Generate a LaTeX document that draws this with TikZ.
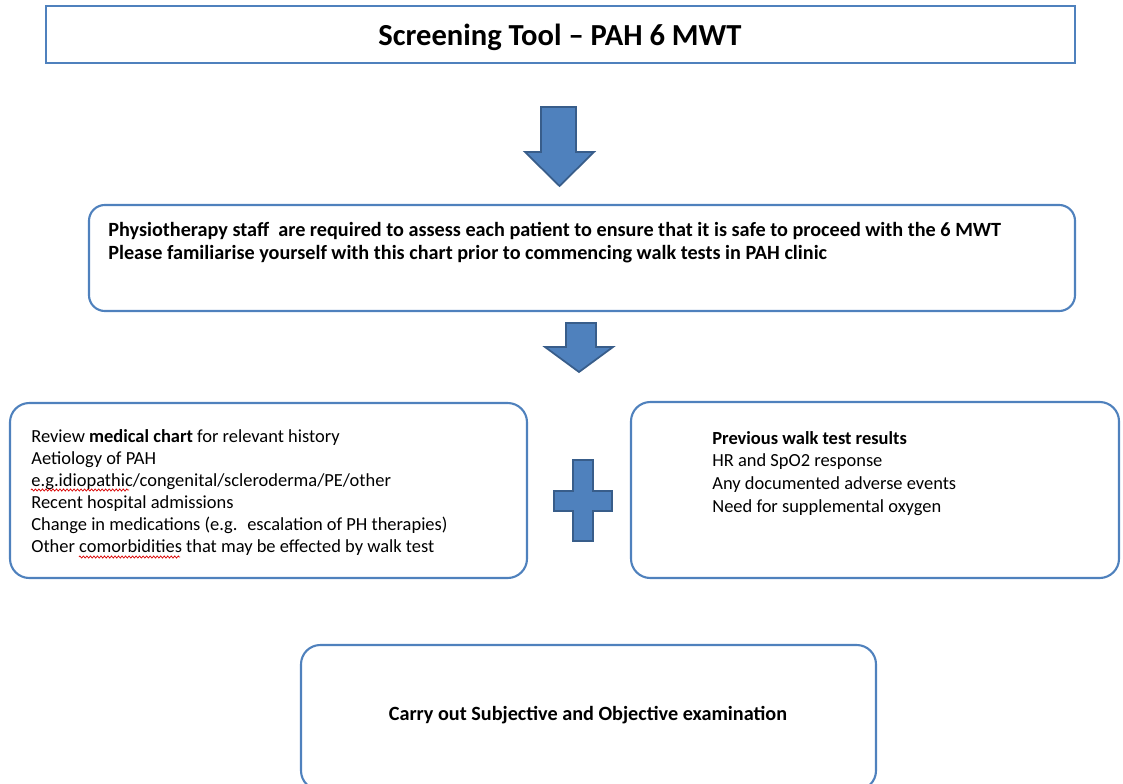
\documentclass[tikz,border=0pt]{standalone}
\usepackage{fontspec}
\setmainfont{Carlito}
\usetikzlibrary{fit,decorations.pathmorphing}
\definecolor{boxblue}{HTML}{4F81BD}
\definecolor{arrowedge}{HTML}{385D8A}
\tikzset{
  titlebox/.style={draw=boxblue, line width=1.4pt, inner sep=0pt},
  roundbox/.style={draw=boxblue, line width=1.2pt, rounded corners=11pt, inner sep=0pt},
  blockarrow/.style={fill=boxblue, draw=arrowedge, line width=1pt, line join=miter},
  txt/.style={inner sep=0pt, align=left, font=\fontsize{10.5}{12.6}\selectfont},
  spellmark/.style={red!85!black, line width=0.4pt, decorate,
    decoration={zigzag, amplitude=0.6pt, segment length=2pt}}
}
\begin{document}
\begin{tikzpicture}[x=0.02cm,y=-0.02cm]
    \useasboundingbox (0,0) rectangle (1123,784);
    % title
    \node[titlebox, fit={(46,6) (1075,63)}] (title) {};
    \node[font=\fontsize{17.4}{20}\selectfont\bfseries] (titletxt) at (560,37) {Screening Tool -- PAH 6 MWT};
    \draw[blockarrow] (541,107) -- (576,107) -- (576,152) -- (594,152) -- (559.5,186)
        -- (525,152) -- (541,152) -- cycle;
    % staff box
    \node[roundbox, rounded corners=9pt, fit={(89,205) (1075,311)}] (staff) {};
    \node[txt, font=\fontsize{11.5}{13}\selectfont\bfseries, anchor=north west] (stafftxt) at (108,222)
        {Physiotherapy staff \ are required to assess each patient to ensure that it is safe to proceed with the 6 MWT\\
         Please familiarise yourself with this chart prior to commencing walk tests in PAH clinic};
    \draw[blockarrow] (566,323) -- (596,323) -- (596,347) -- (613,347) -- (579,372)
        -- (545,347) -- (566,347) -- cycle;
    % history + walk tests
    \node[roundbox, fit={(10,403) (527,578)}] (hist) {};
    \node[txt, anchor=north west] (histtxt) at (31,429)
        {Review \textbf{medical chart} for relevant history\\
         Aetiology of PAH\\
         e.g.idiopathic/congenital/scleroderma/PE/other\\
         Recent hospital admissions\\
         Change in medications (e.g. \ escalation of PH therapies)\\
         Other comorbidities that may be effected by walk test};
    \draw[spellmark] (31,490) -- (129,490);
    \draw[spellmark] (79,557) -- (180,557);
    \draw[blockarrow] (573,460) -- (593,460) -- (593,491) -- (612,491) -- (612,511) -- (593,511)
        -- (593,541) -- (573,541) -- (573,511) -- (554,511) -- (554,491) -- (573,491) -- cycle;
    \node[roundbox, fit={(631,402) (1119,578)}] (walk) {};
    \node[txt, font=\fontsize{10.5}{12.9}\selectfont, anchor=north west] (walktxt) at (712,431)
        {\textbf{Previous walk test results}\\
         HR and SpO2 response\\
         Any documented adverse events\\
         Need for supplemental oxygen};
    % exam
    \node[roundbox, fit={(301,645) (876,790)}] (exam) {};
    \node[font=\fontsize{11.5}{13}\selectfont\bfseries] (examtxt) at (588,715) {Carry out Subjective and Objective examination};
\end{tikzpicture}
\end{document}
